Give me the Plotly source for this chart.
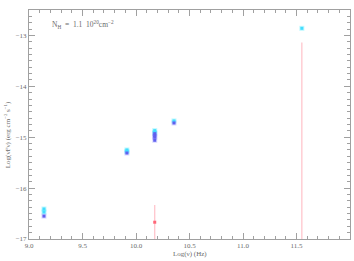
import plotly.graph_objects as go

# Data
cyan_x = [9.14, 9.14, 9.915, 9.915, 10.175, 10.175, 10.355, 11.55]
cyan_y = [-16.41, -16.47, -15.25, -15.28, -14.87, -14.91, -14.68, -12.86]

blue_x = [9.14, 9.915, 10.175, 10.175, 10.175, 10.175, 10.355]
blue_y = [-16.55, -15.31, -14.93, -14.97, -15.00, -15.06, -14.72]

red_x = [10.175, 11.55]
red_y = [-16.67, -17.60]
red_err_plus = [0.34, 4.46]
red_err_minus = [0.34, 0.5]

x_ticks = [9.0, 9.5, 10.0, 10.5, 11.0, 11.5, 12.0]
x_tick_labels = ["9.0", "9.5", "10.0", "10.5", "11.0", "11.5", "12.0"]
y_ticks = [-17, -16, -15, -14, -13]
y_tick_labels = ["\u221217", "\u221216", "\u221215", "\u221214", "\u221213"]

font = "Liberation Serif"
grey = "#6a6a6a"
axcol = "#a0a0a0"

fig = go.Figure()

# glow layers
fig.add_trace(go.Scatter(x=cyan_x, y=cyan_y, mode="markers",
                         marker=dict(symbol="square", size=5, color="rgba(0,230,255,0.25)", line=dict(width=0)),
                         hoverinfo="skip", showlegend=False))
fig.add_trace(go.Scatter(x=blue_x, y=blue_y, mode="markers",
                         marker=dict(symbol="square", size=5, color="rgba(100,100,255,0.25)", line=dict(width=0)),
                         hoverinfo="skip", showlegend=False))
fig.add_trace(go.Scatter(x=cyan_x, y=cyan_y, mode="markers",
                         marker=dict(symbol="square", size=3, color="#44ddff", line=dict(width=0)),
                         showlegend=False))
fig.add_trace(go.Scatter(x=blue_x, y=blue_y, mode="markers",
                         marker=dict(symbol="square", size=3, color="#6060ee", line=dict(width=0)),
                         showlegend=False))
fig.add_trace(go.Scatter(x=red_x, y=red_y, mode="markers",
                         marker=dict(symbol="square", size=3, color="#ff6677", line=dict(width=0)),
                         error_y=dict(type="data", symmetric=False, array=red_err_plus,
                                      arrayminus=red_err_minus, color="#ffc0c8",
                                      thickness=1.2, width=0),
                         showlegend=False))

axis_common = dict(
    showgrid=False, zeroline=False, showline=True, linecolor=axcol, linewidth=1,
    mirror="ticks", ticks="inside", ticklen=6, tickcolor=axcol, automargin=False,
    tickfont=dict(family=font, size=7, color=grey),
)

fig.update_xaxes(range=[9.0, 12.0], tickvals=x_ticks, ticktext=x_tick_labels,
                 minor=dict(dtick=0.1, ticks="inside", ticklen=3, tickcolor=axcol),
                 **axis_common)
fig.update_yaxes(range=[-17.0, -12.5], tickvals=y_ticks, ticktext=y_tick_labels,
                 minor=dict(dtick=0.125, ticks="inside", ticklen=3, tickcolor=axcol),
                 **axis_common)

fig.add_annotation(x=0.5, y=-0.066, xref="paper", yref="paper", xanchor="center", yanchor="middle",
                   showarrow=False, text="Log(\u03bd) (Hz)",
                   font=dict(family=font, size=7, color=grey))
fig.add_annotation(x=-0.068, y=0.454, xref="paper", yref="paper", xanchor="center", yanchor="middle",
                   showarrow=False, textangle=-90,
                   text="Log(\u03bdF\u03bd) (erg cm<sup>\u22122</sup> s<sup>\u22121</sup>)",
                   font=dict(family=font, size=7, color=grey))
fig.add_annotation(x=0.065, y=0.935, xref="paper", yref="paper", xanchor="left", yanchor="middle",
                   showarrow=False,
                   text="N<sub>H</sub>  =  1.1  10<sup>20</sup>cm<sup>\u22122</sup>",
                   font=dict(family=font, size=7.5, color=grey))

fig.update_layout(width=354, height=261, margin=dict(l=29, r=4, t=10, b=22),
                  plot_bgcolor="white", paper_bgcolor="white")

# remove the default page margin so the figure fills the window exactly
fig.write_html("out.html", config={"displayModeBar": False},
               post_script="document.body.style.margin='0';")
